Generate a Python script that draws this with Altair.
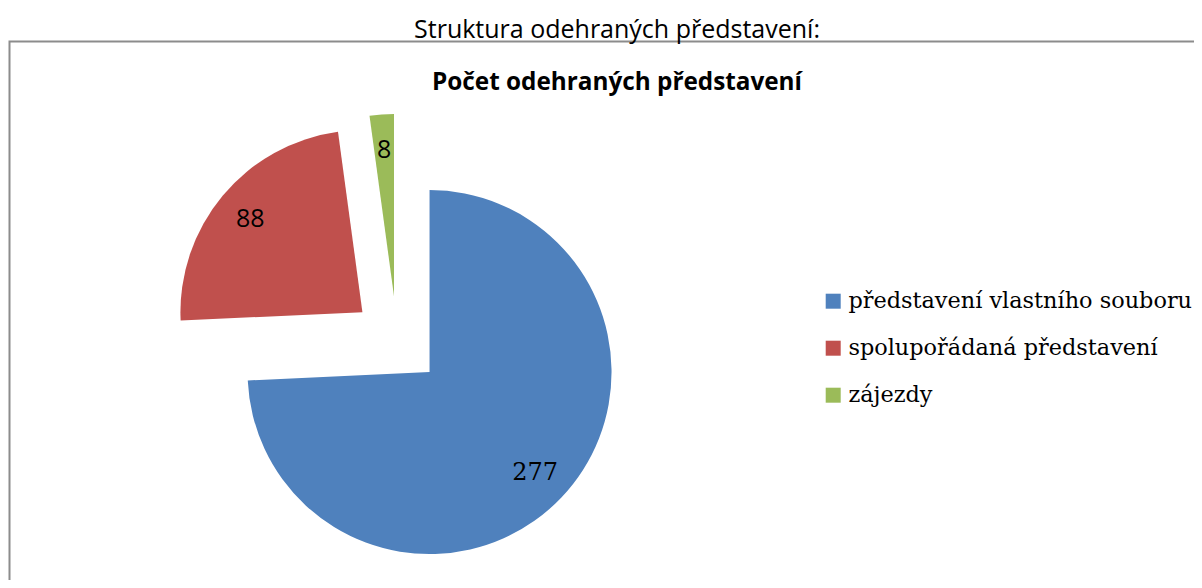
import altair as alt
import pandas as pd

# data
categories = ["představení vlastního souboru", "spolupořádaná představení", "zájezdy"]
values = [277, 88, 8]
colors = ["#4F81BD", "#C0504D", "#9BBB59"]
label_fonts = ["serif", "sans", "sans"]

outer_title = "Struktura odehraných představení:"
inner_title = "Počet odehraných představení"

W, H = 1186, 572
CX, CY = 389, 333          # pie centre (before explosion)
R = 182                    # pie radius
EXPLODE = 45               # explosion distance
LR = 146                   # label distance from slice apex

df = pd.DataFrame({
    "idx": list(range(len(categories))),
    "cat": categories,
    "value": values,
    "lf": label_fonts,
})

base = alt.Chart(df).transform_window(
    cum="sum(value)", sort=[alt.SortField("idx")], frame=[None, 0]
).transform_joinaggregate(
    total="sum(value)"
).transform_calculate(
    t0="2*PI*(datum.cum - datum.value)/datum.total",
    t1="2*PI*datum.cum/datum.total",
).transform_calculate(
    mid="(datum.t0 + datum.t1)/2"
).transform_calculate(
    px=f"{CX} + {EXPLODE}*sin(datum.mid)",
    py=f"{CY} - {EXPLODE}*cos(datum.mid)",
    lx=f"{CX} + ({EXPLODE}+{LR})*sin(datum.mid)",
    ly=f"{CY} - ({EXPLODE}+{LR})*cos(datum.mid)",
)

border = alt.Chart(df).mark_rect(
    fill="white", stroke="#8c8c8c", strokeWidth=2
).encode(
    x=alt.value(1.5), x2=alt.value(W + 50), y=alt.value(33.5), y2=alt.value(H + 50)
).transform_filter("datum.idx == 0")

arcs = base.mark_arc(radius=R).encode(
    x=alt.X("px:Q", scale=None),
    y=alt.Y("py:Q", scale=None),
    theta=alt.Theta("t0:Q", scale=None, stack=None),
    theta2=alt.Theta2("t1:Q"),
    color=alt.Color(
        "cat:N",
        scale=alt.Scale(domain=categories, range=colors),
        legend=alt.Legend(
            title=None, orient="none", legendX=814, legendY=282,
            symbolType="square", symbolSize=225, symbolStrokeWidth=0,
            labelFont="DejaVu Serif", labelFontSize=22.4, labelColor="#000000",
            labelOffset=4, rowPadding=24, padding=0, labelLimit=600,
        ),
    ),
)

labels_serif = base.mark_text(
    font="DejaVu Serif", fontSize=24, color="black", baseline="middle", align="center"
).encode(
    x=alt.X("lx:Q", scale=None), y=alt.Y("ly:Q", scale=None), text="value:Q"
).transform_filter("datum.lf == 'serif'")

labels_sans = base.mark_text(
    font="Open Sans", fontSize=25, color="black", baseline="middle", align="center"
).encode(
    x=alt.X("lx:Q", scale=None), y=alt.Y("ly:Q", scale=None), text="value:Q"
).transform_filter("datum.lf == 'sans'")

t_outer = alt.Chart(df).mark_text(
    font="Open Sans", fontSize=25, color="black", baseline="middle", align="center"
).encode(
    x=alt.value(609), y=alt.value(22), text=alt.value(outer_title)
).transform_filter("datum.idx == 0")

t_inner = alt.Chart(df).mark_text(
    font="Open Sans", fontSize=24.3, fontWeight="bold", color="black",
    baseline="middle", align="center"
).encode(
    x=alt.value(609), y=alt.value(75), text=alt.value(inner_title)
).transform_filter("datum.idx == 0")

chart = alt.layer(border, arcs, labels_serif, labels_sans, t_outer, t_inner).properties(
    width=W, height=H, padding=0, autosize="none"
).configure_view(stroke=None)

chart.save("out.html", embed_options={"renderer": "svg", "actions": False})
